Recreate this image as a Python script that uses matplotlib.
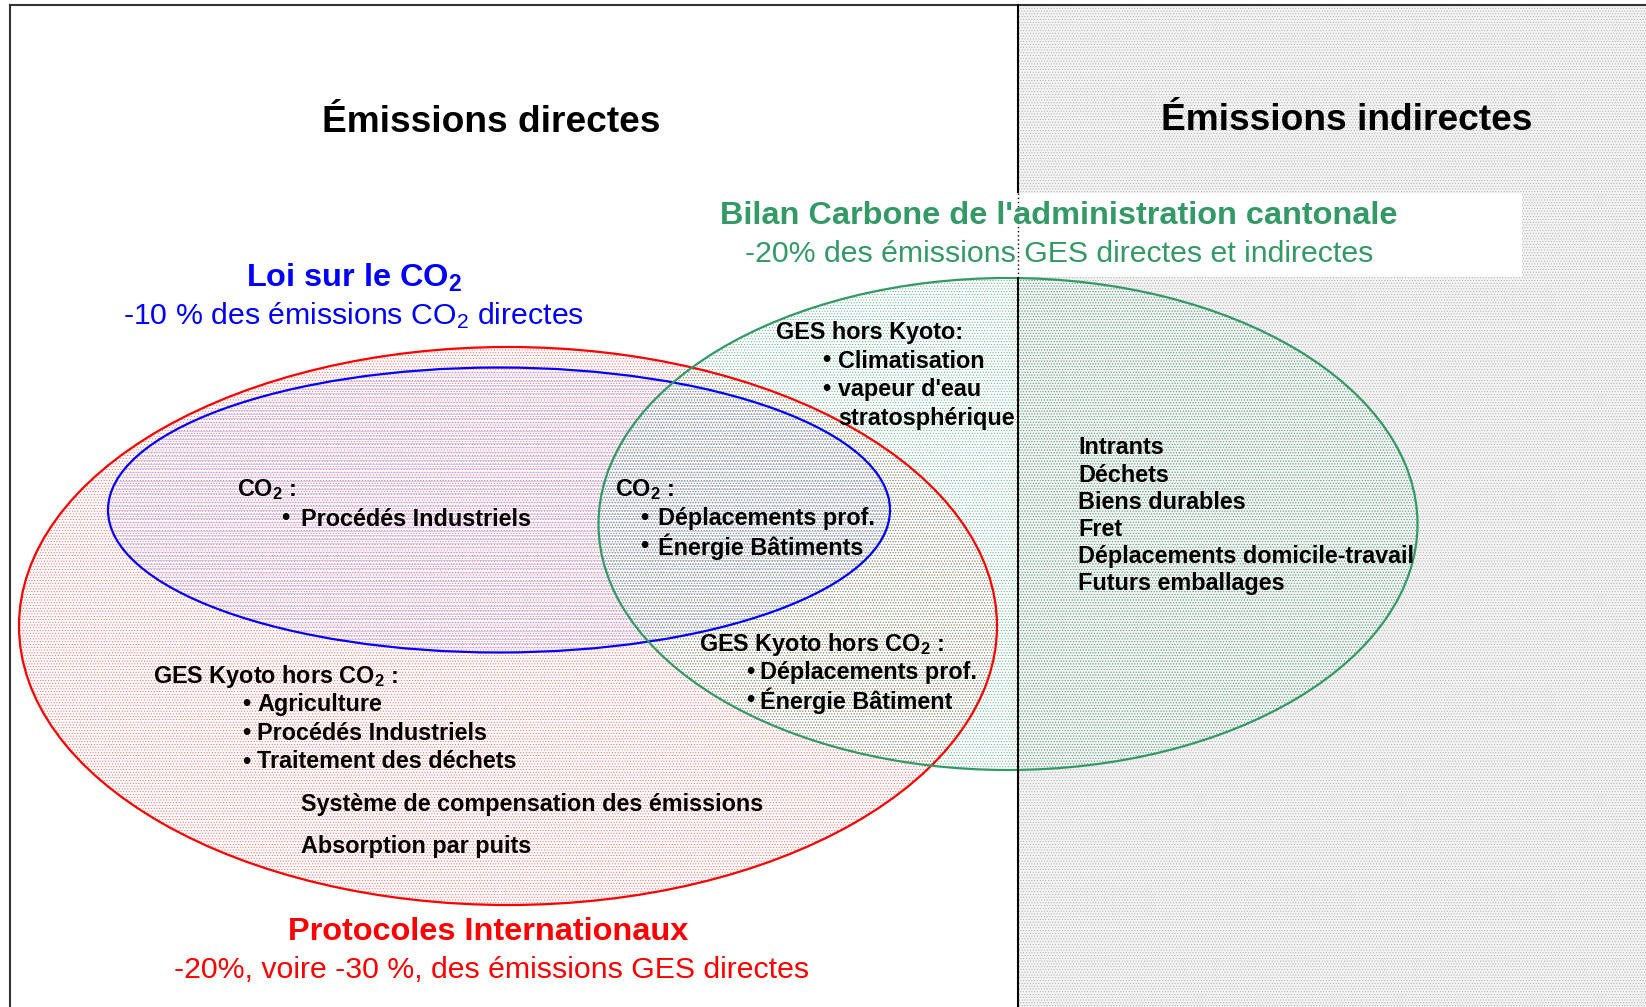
import matplotlib
matplotlib.use("Agg")
import matplotlib.pyplot as plt
from matplotlib.patches import Ellipse, Rectangle

plt.rcParams['font.family'] = ['Liberation Sans', 'DejaVu Sans']
plt.rcParams['mathtext.fontset'] = 'custom'
plt.rcParams['mathtext.rm'] = 'Liberation Sans'
plt.rcParams['mathtext.bf'] = 'Liberation Sans:bold'
plt.rcParams['mathtext.it'] = 'Liberation Sans:italic'
plt.rcParams['hatch.linewidth'] = 0.4

# labels
title_direct = 'Émissions directes'
title_indirect = 'Émissions indirectes'
bilan_title = "Bilan Carbone de l'administration cantonale"
bilan_goal = '-20% des émissions GES directes et indirectes'
loi_title = r'Loi sur le CO$_\mathbf{2}$'
loi_goal = r'-10 % des émissions CO$_\mathrm{2}$ directes'
proto_title = 'Protocoles Internationaux'
proto_goal = '-20%, voire -30 %, des émissions GES directes'

co2_header = r'CO$_\mathbf{2}$ :'
kyoto_header = r'GES Kyoto hors CO$_\mathbf{2}$ :'
non_kyoto_header = 'GES hors Kyoto:'

co2_direct_items = ['Procédés Industriels']
co2_shared_items = ['Déplacements prof.', 'Énergie Bâtiments']
non_kyoto_items = ['Climatisation', "vapeur d'eau"]
non_kyoto_tail = 'stratosphérique'
kyoto_shared_items = ['Déplacements prof.', 'Énergie Bâtiment']
kyoto_direct_items = ['Agriculture', 'Procédés Industriels', 'Traitement des déchets']
other_items = ['Système de compensation des émissions', 'Absorption par puits']
indirect_items = ['Intrants', 'Déchets', 'Biens durables', 'Fret',
                  'Déplacements domicile-travail', 'Futurs emballages']

RED = '#ff0000'
BLUE = '#0000ff'
GREEN = '#339966'
W, H = 1646, 1007
VX = 1018  # boundary direct / indirect
FS = 16.8  # inner text size
DY = 3     # vertical nudge for all text


def label(ax, x, y, s, size=FS, **kw):
    kw.setdefault('fontweight', 'bold')
    kw.setdefault('va', 'center')
    ax.text(x, y + DY, s, fontsize=size, zorder=10, **kw)


def bullet_list(ax, xb, xt, y0, dy, items):
    for i, item in enumerate(items):
        y = y0 + i * dy
        label(ax, xb, y, '•')
        label(ax, xt, y, item)


fig = plt.figure(figsize=(W / 100, H / 100), dpi=100)
ax = fig.add_axes([0, 0, 1, 1])
ax.set_xlim(0, W)
ax.set_ylim(H, 0)
ax.axis('off')

# indirect half: grey dotted background
ax.add_patch(Rectangle((VX, 5), W - VX, H, facecolor='#f3f3f3', edgecolor='#b0b0b0',
                       hatch='......', lw=0, zorder=1))

# ellipse fills (dotted)
red_e = dict(xy=(508, 626), width=978, height=558)
blue_e = dict(xy=(499, 510), width=782, height=285)
green_e = dict(xy=(1008, 524), width=819, height=492)

ax.add_patch(Ellipse(**red_e, facecolor='none', edgecolor='#ff6464', hatch='......', lw=0, zorder=2))
ax.add_patch(Ellipse(**blue_e, facecolor='none', edgecolor='#a8a8ff', hatch='----', lw=0, zorder=3))
ax.add_patch(Ellipse(**green_e, facecolor='none', edgecolor='#5cb088', hatch='......', lw=0, zorder=4))

# outlines
ax.add_patch(Ellipse(**red_e, facecolor='none', edgecolor=RED, lw=1.6, zorder=6))
ax.add_patch(Ellipse(**blue_e, facecolor='none', edgecolor=BLUE, lw=1.6, zorder=6))
ax.add_patch(Ellipse(**green_e, facecolor='none', edgecolor=GREEN, lw=1.6, zorder=6))

# frame and separator
ax.plot([10, W], [5, 5], color='#333333', lw=1.5, zorder=7)
ax.plot([10, 10], [5, H], color='#333333', lw=1.5, zorder=7)
ax.plot([VX, VX], [5, H], color='black', lw=1.5, zorder=7)

# white box behind the Bilan Carbone label
ax.add_patch(Rectangle((700, 193), 822, 84, facecolor='white', edgecolor='none', zorder=8))
ax.plot([VX, VX], [193, 277], color='black', lw=1, ls=(0, (1, 2)), zorder=9)

# headings
label(ax, 491, 120, title_direct, size=26.7, ha='center')
label(ax, 1347, 118, title_indirect, size=26.7, ha='center')

label(ax, 1059, 213, bilan_title, size=23.4, color=GREEN, ha='center')
label(ax, 1059, 251, bilan_goal, size=21.8, fontweight='normal', color=GREEN, ha='center')

label(ax, 354, 275, loi_title, size=23.4, color=BLUE, ha='center')
label(ax, 354, 313, loi_goal, size=21.8, fontweight='normal', color=BLUE, ha='center')

label(ax, 488, 929, proto_title, size=23.4, color=RED, ha='center')
label(ax, 492, 967, proto_goal, size=21.8, fontweight='normal', color=RED, ha='center')

# inner contents
label(ax, 237, 487, co2_header)
bullet_list(ax, 281, 301, 516, 28.5, co2_direct_items)

label(ax, 615, 487, co2_header)
bullet_list(ax, 640, 658, 515, 29, co2_shared_items)

label(ax, 776, 329, non_kyoto_header)
bullet_list(ax, 822, 838, 358, 28.5, non_kyoto_items)
label(ax, 838, 415, non_kyoto_tail)

for i, item in enumerate(indirect_items):
    label(ax, 1078, 445 + i * 27.1, item)

label(ax, 699, 641, kyoto_header)
bullet_list(ax, 746, 760, 669, 29, kyoto_shared_items)

label(ax, 153, 673, kyoto_header)
bullet_list(ax, 242, 257, 702, 28.5, kyoto_direct_items)

for i, item in enumerate(other_items):
    label(ax, 301, 801 + i * 42, item)

fig.savefig('out.png', dpi=100)
